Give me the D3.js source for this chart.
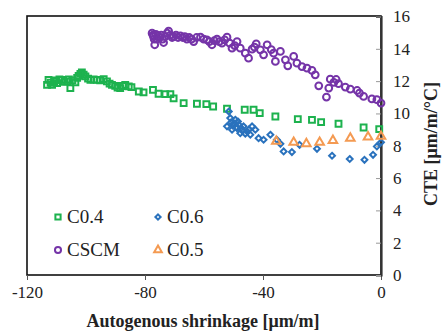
<!DOCTYPE html>
<html>
<head>
<meta charset="utf-8">
<script src="https://cdn.jsdelivr.net/npm/d3@7"></script>
<style>
  body { margin: 0; background: #fff; }
  svg text { font-family: "Liberation Serif", "Times New Roman", Times, "DejaVu Serif", serif; }
</style>
</head>
<body>
<script>
// data: [shrinkage, CTE]
const c04 = [
  [-113.2, 11.77], [-112.7, 12.08], [-112.0, 11.9], [-111.5, 11.77], [-110.8, 12.0], [-110.3, 12.05],
  [-109.8, 11.88], [-109.0, 12.1], [-108.1, 12.08], [-107.3, 11.95], [-106.4, 11.98], [-105.8, 12.1],
  [-105.3, 11.57], [-104.6, 12.05], [-103.6, 11.92], [-103.0, 12.2], [-102.5, 12.33], [-101.9, 12.45],
  [-101.4, 12.54], [-100.8, 12.4], [-100.2, 12.29], [-99.3, 12.15], [-98.5, 12.08], [-97.4, 12.1],
  [-96.3, 12.08], [-95.2, 12.05], [-94.0, 12.12], [-92.9, 11.98], [-92.0, 11.85], [-91.2, 11.77],
  [-90.1, 11.71], [-89.3, 11.6], [-88.4, 11.57], [-87.5, 11.7], [-86.7, 11.77], [-85.5, 11.68],
  [-84.6, 11.63], [-82.1, 11.36], [-80.5, 11.3], [-77.3, 11.46], [-75.4, 11.22], [-73.1, 11.2],
  [-71.4, 11.2], [-70.3, 10.93], [-66.9, 10.64], [-62.4, 10.6], [-59.2, 10.58], [-56.9, 10.43],
  [-52.2, 10.29], [-46.2, 10.23], [-43.2, 10.23], [-41.1, 10.02], [-35.8, 9.81], [-28.2, 9.65],
  [-23.4, 9.6], [-20.3, 9.46], [-14.4, 9.36], [-5.9, 9.13], [-0.6, 9.03]
]
const c06 = [
  [-52.2, 9.2], [-51.6, 10.12], [-51.1, 9.71], [-50.8, 9.45], [-50.5, 8.99], [-50.2, 9.25],
  [-49.9, 9.4], [-49.4, 9.61], [-49.0, 9.15], [-48.8, 9.09], [-48.5, 9.5], [-48.2, 9.3],
  [-47.7, 8.78], [-47.4, 9.1], [-47.1, 8.95], [-46.6, 9.2], [-46.0, 8.75], [-45.4, 8.89],
  [-44.8, 9.0], [-44.3, 8.68], [-43.7, 9.2], [-42.6, 8.99], [-41.5, 8.47], [-39.8, 8.37],
  [-37.5, 8.68], [-35.3, 8.37], [-34.1, 8.12], [-33.0, 7.65], [-30.2, 7.61], [-27.6, 8.06],
  [-21.7, 7.81], [-16.6, 7.38], [-10.6, 7.18], [-5.6, 7.13], [-2.7, 7.44], [-1.4, 7.96], [0, 8.21]
]
const cscm = [
  [-77.6, 14.97], [-77.3, 14.85], [-77.1, 14.76], [-76.9, 14.6], [-76.7, 14.25], [-76.3, 14.9],
  [-75.9, 14.6], [-75.5, 14.8], [-75.0, 14.7], [-74.5, 14.85], [-74.0, 14.6], [-73.7, 14.39],
  [-73.2, 14.75], [-72.5, 14.97], [-72.0, 15.1], [-71.4, 14.85], [-70.8, 14.7], [-70.3, 14.76],
  [-69.5, 14.85], [-68.8, 14.7], [-68.0, 14.8], [-67.2, 14.7], [-66.5, 14.75], [-65.8, 14.6],
  [-65.0, 14.7], [-64.2, 14.6], [-63.5, 14.45], [-62.5, 14.7], [-61.2, 14.72], [-60.1, 14.6],
  [-59.0, 14.56], [-58.2, 14.45], [-57.3, 14.25], [-56.5, 14.5], [-55.6, 14.6], [-54.8, 14.45],
  [-53.9, 14.35], [-53.0, 14.55], [-52.2, 14.72], [-51.3, 14.35], [-50.5, 14.04], [-49.6, 14.2],
  [-48.8, 14.45], [-47.7, 14.04], [-46.0, 13.73], [-44.9, 13.42], [-43.7, 13.98], [-42.9, 14.1],
  [-42.3, 14.31], [-40.9, 13.94], [-39.8, 13.63], [-38.6, 14.25], [-37.2, 13.95], [-36.4, 13.73],
  [-35.8, 13.22], [-34.1, 13.84], [-32.4, 13.32], [-31.6, 12.95], [-29.6, 13.53], [-28.5, 13.11],
  [-26.8, 12.9], [-25.1, 12.8], [-23.4, 12.66], [-22.3, 12.39], [-21.1, 11.71], [-18.5, 11.01],
  [-17.7, 11.57], [-17.2, 12.12], [-16.0, 11.92], [-15.2, 12.1], [-14.4, 11.84], [-12.1, 11.63],
  [-10.4, 11.5], [-8.1, 11.42], [-7.3, 11.26], [-5.9, 11.05], [-3.1, 10.9], [-1.4, 10.85], [0, 10.64]
]
const c05 = [
  [-35.5, 8.27], [-29.6, 8.21], [-25.3, 8.12], [-20.8, 8.21], [-16.3, 8.33],
  [-10.4, 8.47], [-4.4, 8.54], [0, 8.58]
]
const xTicks = [-120, -80, -40, 0]
const yTicks = [0, 2, 4, 6, 8, 10, 12, 14, 16]

const series = [
  { name: 'C0.4', data: c04, color: '#1db24e', shape: d3.symbolSquare, size: 34 },
  { name: 'C0.6', data: c06, color: '#2a72bd', shape: d3.symbolDiamond2, size: 22 },
  { name: 'CSCM', data: cscm, color: '#7534a8', shape: d3.symbolCircle, size: 36 },
  { name: 'C0.5', data: c05, color: '#f49a52', shape: d3.symbolTriangle, size: 32 }
]

const width = 442
const height = 332
const m = { left: 27, right: 61, top: 16, bottom: 57 }
const serif = '"Liberation Serif", "Times New Roman", Times, "DejaVu Serif", serif'

const svg = d3.select('body').append('svg').attr('width', width).attr('height', height)

const x = d3.scaleLinear().domain([-120, 0]).range([m.left, width - m.right])
const y = d3.scaleLinear().domain([0, 16]).range([height - m.bottom, m.top + 0.5])

// frame
svg.append('rect')
  .attr('x', m.left).attr('y', m.top)
  .attr('width', width - m.right - m.left).attr('height', height - m.bottom - m.top)
  .attr('fill', 'none').attr('stroke', '#111').attr('stroke-width', 1.6)

// x axis
const xAxis = svg.append('g')
  .attr('transform', `translate(0,${height - m.bottom})`)
  .call(d3.axisBottom(x).tickValues(xTicks).tickSize(5).tickPadding(6).tickFormat(d => String(d)))
xAxis.attr('font-family', serif)
xAxis.select('.domain').remove()
xAxis.selectAll('line').attr('stroke', '#555')
xAxis.selectAll('text').attr('font-size', 17).attr('fill', '#222')

// y axis on right, ticks pointing inward
const yAxis = svg.append('g')
  .attr('transform', `translate(${width - m.right},0)`)
  .call(d3.axisRight(y).tickValues(yTicks).tickSize(-5).tickPadding(12))
yAxis.attr('font-family', serif)
yAxis.select('.domain').attr('stroke', '#333').attr('stroke-width', 2.2)
yAxis.selectAll('line').attr('stroke', '#999')
yAxis.selectAll('text').attr('font-size', 17).attr('fill', '#222')

// points
series.forEach(s => {
  svg.append('g').selectAll('path')
    .data(s.data)
    .enter()
    .append('path')
    .attr('d', d3.symbol().type(s.shape).size(s.size))
    .attr('transform', d => `translate(${x(d[0])},${y(d[1])})`)
    .attr('fill', 'none')
    .attr('stroke', s.color)
    .attr('stroke-width', 2)
})

// legend
const legendPos = [[58, 217], [158, 217], [58, 250], [158, 250]]
series.forEach((s, i) => {
  const [lx, ly] = legendPos[i]
  svg.append('path')
    .attr('d', d3.symbol().type(s.shape).size(s.size * 0.8))
    .attr('transform', `translate(${lx},${ly})`)
    .attr('fill', 'none').attr('stroke', s.color).attr('stroke-width', 2)
  svg.append('text')
    .attr('x', lx + 9).attr('y', ly + 6)
    .attr('font-family', serif)
    .attr('font-size', 19).attr('fill', '#222')
    .text(s.name)
})

// axis titles
svg.append('text')
  .attr('x', 203).attr('y', 327)
  .attr('font-family', serif)
  .attr('text-anchor', 'middle').attr('font-weight', 'bold').attr('font-size', 18).attr('fill', '#222')
  .text('Autogenous shrinkage [μm/m]')

svg.append('text')
  .attr('transform', `translate(437,144) rotate(-90)`)
  .attr('font-family', serif)
  .attr('text-anchor', 'middle').attr('font-weight', 'bold').attr('font-size', 18).attr('fill', '#222')
  .text('CTE [μm/m/°C]')
</script>
</body>
</html>
